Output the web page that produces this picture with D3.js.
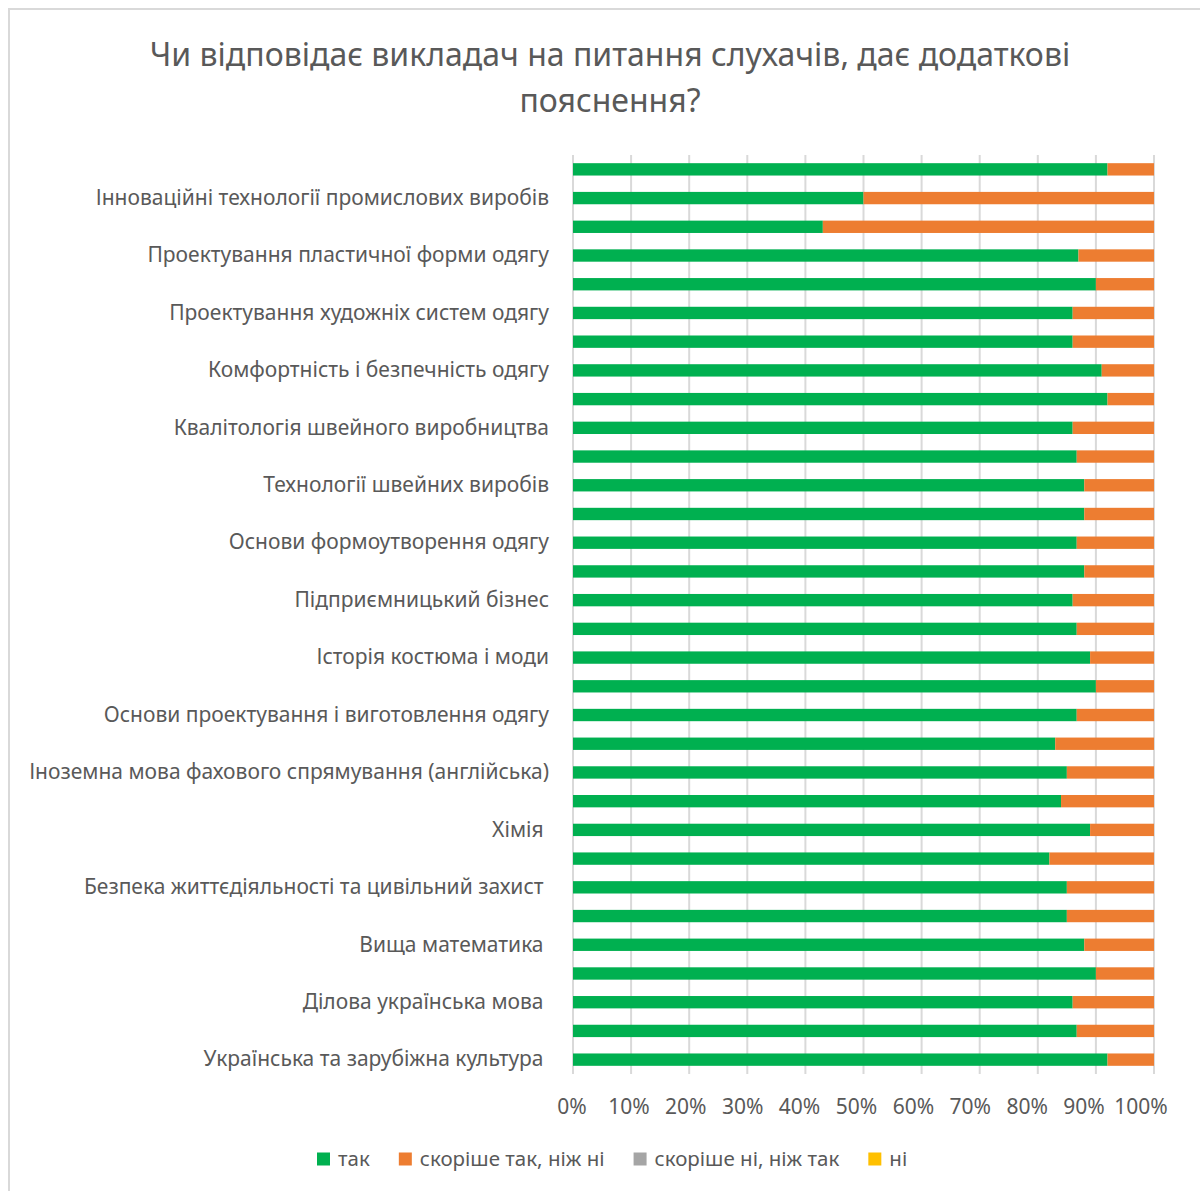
<!DOCTYPE html>
<html>
<head>
<meta charset="utf-8">
<script src="https://cdn.jsdelivr.net/npm/d3@7"></script>
<style>
  body { margin: 0; background: #fff; }
  text { font-family: "Noto Sans", sans-serif; fill: #595959; }
</style>
</head>
<body>
<div id="chart"></div>
<script>
// categories top to bottom, Excel skipped every other label
const categories = [
  "", "Інноваційні технології промислових виробів",
  "", "Проектування пластичної форми одягу",
  "", "Проектування художніх систем одягу",
  "", "Комфортність і безпечність одягу",
  "", "Квалітологія швейного виробництва",
  "", "Технології швейних виробів",
  "", "Основи формоутворення одягу",
  "", "Підприємницький бізнес",
  "", "Історія костюма і моди",
  "", "Основи проектування і виготовлення одягу",
  "", "Іноземна мова фахового спрямування (англійська)",
  "", "Хімія ",
  "", "Безпека життєдіяльності та цивільний захист ",
  "", "Вища математика ",
  "", "Ділова українська мова ",
  "", "Українська та зарубіжна культура "
];
const tak      = [92, 50, 43, 87, 90, 86, 86, 91, 92, 86, 86.7, 88, 88, 86.7, 88, 86, 86.7, 89, 90, 86.7, 83, 85, 84, 89, 82, 85, 85, 88, 90, 86, 86.7, 92];
const skorTak  = [8, 50, 57, 13, 10, 14, 14, 9, 8, 14, 13.3, 12, 12, 13.3, 12, 14, 13.3, 11, 10, 13.3, 17, 15, 16, 11, 18, 15, 15, 12, 10, 14, 13.3, 8];
const skorNi   = [0, 0, 0, 0, 0, 0, 0, 0, 0, 0, 0, 0, 0, 0, 0, 0, 0, 0, 0, 0, 0, 0, 0, 0, 0, 0, 0, 0, 0, 0, 0, 0];
const ni       = [0, 0, 0, 0, 0, 0, 0, 0, 0, 0, 0, 0, 0, 0, 0, 0, 0, 0, 0, 0, 0, 0, 0, 0, 0, 0, 0, 0, 0, 0, 0, 0];
const seriesNames = ["так", "скоріше так, ніж ні", "скоріше ні, ніж так", "ні"];
const colors = ["#00B050", "#ED7D31", "#A5A5A5", "#FFC000"];
const ticks = [0, 0.1, 0.2, 0.3, 0.4, 0.5, 0.6, 0.7, 0.8, 0.9, 1];

const width = 1200, height = 1191;
const plotLeft = 573, plotRight = 1154, plotTop = 155, plotBottom = 1074;

const svg = d3.select("#chart").append("svg")
  .attr("width", width)
  .attr("height", height);

// chart border
svg.append("rect")
  .attr("x", 9).attr("y", 9)
  .attr("width", 1300).attr("height", 1300)
  .attr("fill", "none")
  .attr("stroke", "#d9d9d9")
  .attr("stroke-width", 2);

// title
svg.append("text")
  .attr("x", 610).attr("y", 66)
  .attr("text-anchor", "middle")
  .style("font-size", "32px")
  .text("Чи відповідає викладач на питання слухачів, дає додаткові");
svg.append("text")
  .attr("x", 610).attr("y", 112)
  .attr("text-anchor", "middle")
  .style("font-size", "32px")
  .text("пояснення?");

const rows = categories.map((c, i) => ({
  idx: i,
  [seriesNames[0]]: tak[i],
  [seriesNames[1]]: skorTak[i],
  [seriesNames[2]]: skorNi[i],
  [seriesNames[3]]: ni[i]
}));

const x = d3.scaleLinear().domain([0, 1]).range([plotLeft, plotRight]);
const y = d3.scaleBand()
  .domain(d3.range(categories.length))
  .range([plotTop, plotBottom])
  .paddingInner(0.57)
  .paddingOuter(0.285);

// gridlines
svg.append("g")
  .selectAll("line")
  .data(ticks)
  .enter()
  .append("line")
  .attr("x1", d => x(d)).attr("x2", d => x(d))
  .attr("y1", plotTop).attr("y2", plotBottom)
  .attr("stroke", "#d9d9d9")
  .attr("stroke-width", 2);

const stack = d3.stack().keys(seriesNames).offset(d3.stackOffsetExpand);
const stacked = stack(rows);

svg.append("g")
  .selectAll("g")
  .data(stacked)
  .enter()
  .append("g")
  .attr("fill", (d, i) => colors[i])
  .selectAll("rect")
  .data(d => d)
  .enter()
  .append("rect")
  .attr("x", d => x(d[0]))
  .attr("y", d => y(d.data.idx))
  .attr("width", d => x(d[1]) - x(d[0]))
  .attr("height", y.bandwidth());

// category axis
const yAxis = d3.axisLeft(y).tickSize(0).tickPadding(24).tickFormat(i => categories[i]);
const gy = svg.append("g").attr("transform", `translate(${plotLeft},0)`).call(yAxis);
gy.select(".domain").remove();
gy.selectAll("text")
  .style("font-size", "21px")
  .style("white-space", "pre")
  .attr("fill", "#595959");

// value axis labels (Excel draws them slightly left of the grid)
const xLabel = d3.scaleLinear().domain([0, 1]).range([572, 1141]);
svg.append("g")
  .selectAll("text")
  .data(ticks)
  .enter()
  .append("text")
  .attr("x", d => xLabel(d))
  .attr("y", 1114)
  .attr("text-anchor", "middle")
  .style("font-size", "21px")
  .text(d3.format(".0%"));

// legend
const legend = svg.append("g").attr("transform", "translate(0,1159)");
let lx = 317;
seriesNames.forEach((name, i) => {
  legend.append("rect")
    .attr("x", lx).attr("y", -6.5)
    .attr("width", 13).attr("height", 13)
    .attr("fill", colors[i]);
  const t = legend.append("text")
    .attr("x", lx + 21).attr("y", 7)
    .style("font-size", "20.5px")
    .text(name);
  lx += 21 + t.node().getComputedTextLength() + 29;
});
</script>
</body>
</html>
